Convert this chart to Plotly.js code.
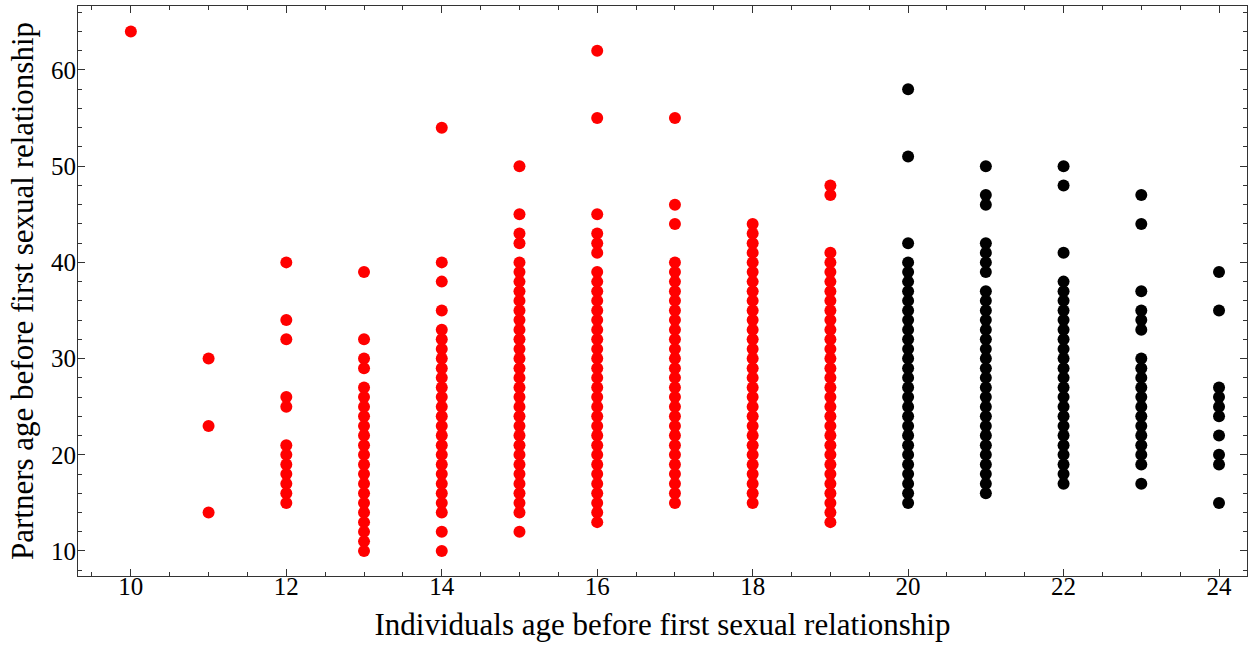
<!DOCTYPE html>
<html>
<head>
<meta charset="utf-8">
<script src="https://cdn.plot.ly/plotly-3.0.1.min.js"></script>
<style>
  html, body { margin: 0; padding: 0; background: #fff; }
  #chart { width: 1251px; height: 646px; }
</style>
</head>
<body>
<div id="chart"></div>
<script>
// Partner ages recorded for each individual age (before first sexual relationship)
const ages10 = [64];
const ages11 = [30, 23, 14];
const ages12 = [40, 34, 32, 26, 25, 21, 20, 19, 18, 17, 16, 15];
const ages13 = [39, 32, 30, 29, 27, 26, 25, 24, 23, 22, 21, 20, 19, 18, 17, 16, 15, 14, 13, 12, 11, 10];
const ages14 = [54, 40, 38, 35, 33, 32, 31, 30, 29, 28, 27, 26, 25, 24, 23, 22, 21, 20, 19, 18, 17, 16, 15, 14, 12, 10];
const ages15 = [50, 45, 43, 42, 40, 39, 38, 37, 36, 35, 34, 33, 32, 31, 30, 29, 28, 27, 26, 25, 24, 23, 22, 21, 20, 19, 18, 17, 16, 15, 14, 12];
const ages16 = [62, 55, 45, 43, 42, 41, 39, 38, 37, 36, 35, 34, 33, 32, 31, 30, 29, 28, 27, 26, 25, 24, 23, 22, 21, 20, 19, 18, 17, 16, 15, 14, 13];
const ages17 = [55, 46, 44, 40, 39, 38, 37, 36, 35, 34, 33, 32, 31, 30, 29, 28, 27, 26, 25, 24, 23, 22, 21, 20, 19, 18, 17, 16, 15];
const ages18 = [44, 43, 42, 41, 40, 39, 38, 37, 36, 35, 34, 33, 32, 31, 30, 29, 28, 27, 26, 25, 24, 23, 22, 21, 20, 19, 18, 17, 16, 15];
const ages19 = [48, 47, 41, 40, 39, 38, 37, 36, 35, 34, 33, 32, 31, 30, 29, 28, 27, 26, 25, 24, 23, 22, 21, 20, 19, 18, 17, 16, 15, 14, 13];
const ages20 = [58, 51, 42, 40, 39, 38, 37, 36, 35, 34, 33, 32, 31, 30, 29, 28, 27, 26, 25, 24, 23, 22, 21, 20, 19, 18, 17, 16, 15];
const ages21 = [50, 47, 46, 42, 41, 40, 39, 37, 36, 35, 34, 33, 32, 31, 30, 29, 28, 27, 26, 25, 24, 23, 22, 21, 20, 19, 18, 17, 16];
const ages22 = [50, 48, 41, 38, 37, 36, 35, 34, 33, 32, 31, 30, 29, 28, 27, 26, 25, 24, 23, 22, 21, 20, 19, 18, 17];
const ages23 = [47, 44, 37, 35, 34, 33, 30, 29, 28, 27, 26, 25, 24, 23, 22, 21, 20, 19, 17];
const ages24 = [39, 35, 27, 26, 25, 24, 22, 20, 19, 15];

// Individuals under 20 drawn in red, 20 and over in black
const youngGroups = { 10: ages10, 11: ages11, 12: ages12, 13: ages13, 14: ages14, 15: ages15, 16: ages16, 17: ages17, 18: ages18, 19: ages19 };
const olderGroups = { 20: ages20, 21: ages21, 22: ages22, 23: ages23, 24: ages24 };

function flatten(groups) {
  const xs = [], ys = [];
  Object.keys(groups).forEach(k => {
    groups[k].forEach(v => { xs.push(Number(k)); ys.push(v); });
  });
  return { xs, ys };
}

const young = flatten(youngGroups);
const older = flatten(olderGroups);

const font = { family: '"Liberation Serif", "Times New Roman", serif', color: '#000' };

const traces = [
  { x: young.xs, y: young.ys, type: 'scatter', mode: 'markers',
    marker: { color: '#ff0000', size: 12 }, showlegend: false, hoverinfo: 'x+y' },
  { x: older.xs, y: older.ys, type: 'scatter', mode: 'markers',
    marker: { color: '#000000', size: 12 }, showlegend: false, hoverinfo: 'x+y' }
];

const axisCommon = {
  showgrid: false, zeroline: false,
  showline: true, linecolor: '#333', linewidth: 1, mirror: 'allticks',
  ticks: 'inside', ticklen: 7, tickwidth: 1, tickcolor: '#333',
  tickfont: Object.assign({ size: 25 }, font)
};

const layout = {
  width: 1251, height: 646,
  margin: { l: 78, r: 4, t: 6, b: 70 },
  paper_bgcolor: '#fff', plot_bgcolor: '#fff',
  font: font,
  xaxis: Object.assign({}, axisCommon, {
    range: [9.32, 24.36], dtick: 2, tick0: 0,
    ticklabelstandoff: -12,
    minor: { dtick: 0.5, ticks: 'inside', ticklen: 4, tickcolor: '#333', showgrid: false },
    title: { text: 'Individuals age before first sexual relationship', font: Object.assign({ size: 31 }, font), standoff: 14 }
  }),
  yaxis: Object.assign({}, axisCommon, {
    range: [7.4, 66.65], dtick: 10, tick0: 0,
    ticklabelstandoff: -4,
    minor: { dtick: 2, ticks: 'inside', ticklen: 4, tickcolor: '#333', showgrid: false },
    title: { text: 'Partners age before first sexual relationship', font: Object.assign({ size: 31 }, font), standoff: 8 }
  })
};

Plotly.newPlot('chart', traces, layout, { displayModeBar: false, staticPlot: true });
</script>
</body>
</html>
